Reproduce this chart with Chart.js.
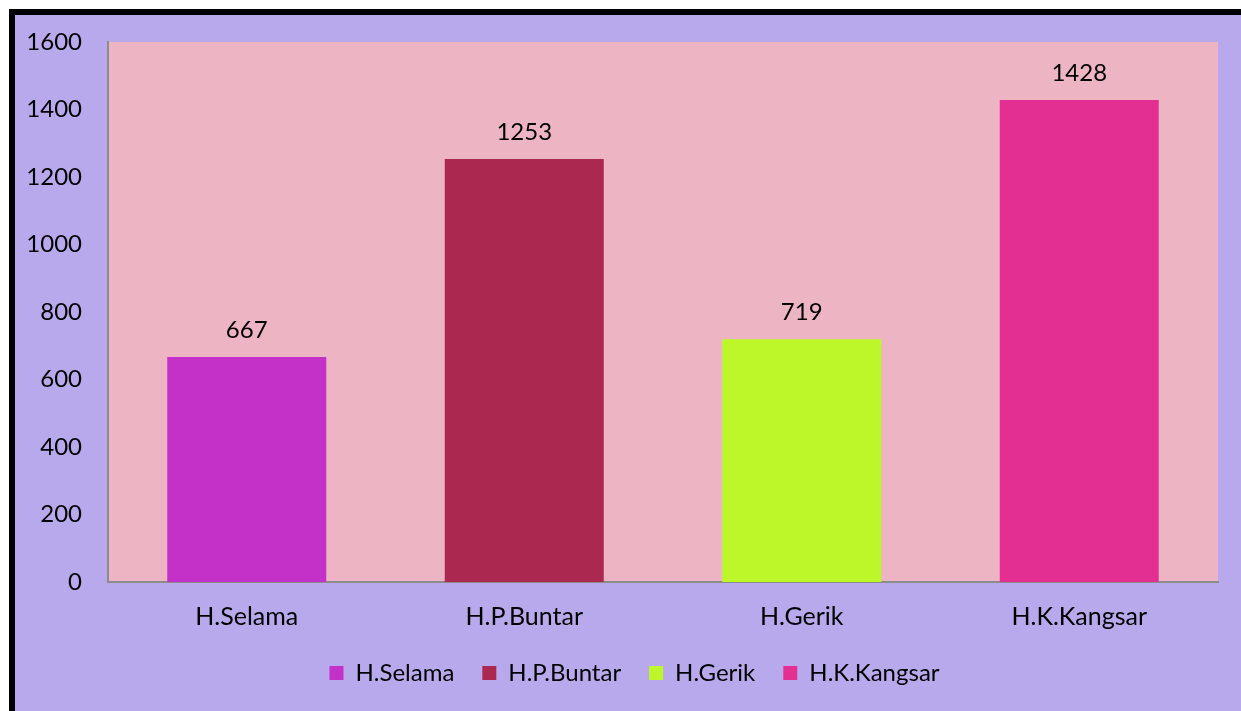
<!DOCTYPE html>
<html>
<head>
<meta charset="utf-8">
<script src="https://cdn.jsdelivr.net/npm/chart.js@4.4.1/dist/chart.umd.min.js"></script>
<style>
  html, body { margin: 0; padding: 0; background: #fff; }
  #frame {
    position: absolute; left: 9px; top: 9px;
    width: 1232px; height: 702px;
    box-sizing: border-box;
    border-top: 6px solid #000; border-left: 6px solid #000;
    background: #b8a9ed;
  }
  #wrap { position: relative; width: 1226px; height: 696px; }
</style>
</head>
<body>
<div id="frame"><div id="wrap"><canvas id="hospChart"></canvas></div></div>
<script>
const categories = ["H.Selama", "H.P.Buntar", "H.Gerik", "H.K.Kangsar"];
const patients = [667, 1253, 719, 1428];
const barColors = ["#c431c9", "#ab2850", "#bdf72a", "#e32f91"];
const yTicks = [0, 200, 400, 600, 800, 1000, 1200, 1400, 1600];

const FONT = "Lato, 'Open Sans', sans-serif";

// pink plot background
const plotBg = {
    id: "plotBg",
    beforeDraw(chart) {
        const a = chart.chartArea;
        const ctx = chart.ctx;
        ctx.save();
        ctx.fillStyle = "#edb4c4";
        ctx.fillRect(a.left, a.top, a.right - a.left, a.bottom - a.top);
        ctx.restore();
    }
};

// nudge legend a bit to the right, like the original
const legendShift = {
    id: "legendShift",
    afterLayout(chart) {
        if (chart.legend) {
            chart.legend.left += 18;
            chart.legend.right += 18;
        }
    }
};

// value above each bar
const valueLabels = {
    id: "valueLabels",
    afterDatasetsDraw(chart) {
        const ctx = chart.ctx;
        const meta = chart.getDatasetMeta(0);
        ctx.save();
        ctx.font = "24px " + FONT;
        ctx.fillStyle = "#000";
        ctx.textAlign = "center";
        ctx.textBaseline = "middle";
        meta.data.forEach(function(bar, i) {
            ctx.fillText(String(patients[i]), bar.x, bar.y - 27);
        });
        ctx.restore();
    }
};

const ctx = document.getElementById("hospChart").getContext("2d");
const chart = new Chart(ctx, {
    type: "bar",
    data: {
        labels: categories,
        datasets: [{
            data: patients,
            backgroundColor: barColors,
            barPercentage: 0.573,
            categoryPercentage: 1
        }]
    },
    options: {
        responsive: true,
        maintainAspectRatio: false,
        animation: false,
        layout: { padding: { top: 27, right: 23, bottom: 16, left: 0 } },
        plugins: {
            tooltip: { enabled: false },
            legend: {
                position: "bottom",
                labels: {
                    boxWidth: 14,
                    boxHeight: 14,
                    padding: 28,
                    color: "#000",
                    font: { family: FONT, size: 24 },
                    generateLabels: function() {
                        return categories.map(function(c, i) {
                            return {
                                text: c,
                                fillStyle: barColors[i],
                                strokeStyle: barColors[i],
                                lineWidth: 0,
                                index: i
                            };
                        });
                    }
                }
            }
        },
        scales: {
            x: {
                grid: { display: false, drawTicks: false },
                border: { display: true, color: "#8c8c8c", width: 2 },
                ticks: { color: "#000", font: { family: FONT, size: 25 }, padding: 20 },
                afterFit: function(s) { s.height = 51; s.paddingLeft = 0; s.paddingRight = 0; }
            },
            y: {
                min: 0,
                max: 1600,
                grid: { display: false, drawTicks: false },
                border: { display: true, color: "#8c8c8c", width: 2 },
                afterBuildTicks: function(s) { s.ticks = yTicks.map(function(v) { return { value: v }; }); },
                ticks: {
                    color: "#000",
                    font: { family: FONT, size: 24 },
                    padding: 26,
                    callback: function(v) { return String(v); }
                },
                afterFit: function(s) { s.width = 93; s.paddingTop = 0; s.paddingBottom = 0; }
            }
        }
    },
    plugins: [plotBg, legendShift, valueLabels]
});
</script>
</body>
</html>
